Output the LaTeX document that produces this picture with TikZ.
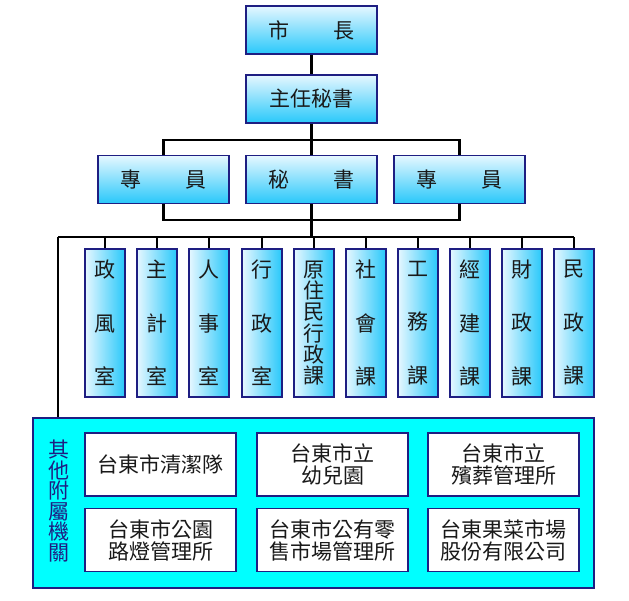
\documentclass[tikz,border=0pt]{standalone}
\usepackage{fontspec}
\setmainfont{Noto Sans CJK TC}
\usepackage{tikz}

\definecolor{navy}{RGB}{30,30,130}
\definecolor{skyblue}{RGB}{40,200,250}
\definecolor{pale}{RGB}{230,247,255}
\definecolor{aqua}{RGB}{0,255,255}
\definecolor{ink}{RGB}{25,25,25}

\begin{document}
\begin{tikzpicture}[x=1pt,y=-1pt,
    headbox/.style={draw=navy, line width=1.6pt, top color=pale, bottom color=skyblue,
        minimum width=131pt, minimum height=48pt, inner sep=0pt, text=ink,
        font=\fontsize{21}{22}\selectfont},
    unitbox/.style={draw=navy, line width=1.6pt, left color=pale, right color=skyblue,
        minimum width=40pt, minimum height=148pt, inner sep=0pt, align=center, text=ink,
        font=\fontsize{21}{53.5}\selectfont},
    subbox/.style={draw=navy, line width=1.6pt, fill=white, minimum width=151pt,
        minimum height=63pt, inner sep=0pt, align=center, text=ink,
        font=\fontsize{21}{22}\selectfont},
    link/.style={line width=2.2pt}]
            \useasboundingbox (0,0) rectangle (629,600);
            % top
            \node[headbox] (mayor) at (311.5,30) {市\hspace{2.1em}長};
            \node[headbox] (chief) at (311.5,99) {主任秘書};
            \node[headbox] (spec1) at (163.5,179.5) {專\hspace{2.1em}員};
            \node[headbox] (sec)   at (311.5,179.5) {秘\hspace{2.1em}書};
            \node[headbox] (spec2) at (459.5,179.5) {專\hspace{2.1em}員};
            % units
            \foreach \i/\x/\txt in {1/105/{政\\風\\室}, 2/157/{主\\計\\室}, 3/209/{人\\事\\室},
                4/262/{行\\政\\室}, 6/366/{社\\會\\課}, 7/418/{工\\務\\課},
                8/470/{經\\建\\課}, 9/522/{財\\政\\課}, 10/574/{民\\政\\課}}
                \node[unitbox] (u\i) at (\x,323) {\txt};
            \node[unitbox, font=\fontsize{21}{21.2}\selectfont] (u5) at (314,323)
                {原\\住\\民\\行\\政\\課};
            % other agencies
            \node[draw=navy, line width=1.6pt, fill=aqua, minimum width=561pt,
                minimum height=170pt, inner sep=0pt] (others) at (313.5,503) {};
            \node[align=center, text=navy, font=\fontsize{21}{20.6}\selectfont] (label) at (59,501)
                {其\\他\\附\\屬\\機\\關};
            \node[subbox] (a1) at (160.5,464.5) {台東市清潔隊};
            \node[subbox] (a2) at (332.5,464.5) {台東市立\\幼兒園};
            \node[subbox] (a3) at (503.5,464.5) {台東市立\\殯葬管理所};
            \node[subbox] (a4) at (160.5,540) {台東市公園\\路燈管理所};
            \node[subbox] (a5) at (332.5,540) {台東市公有零\\售市場管理所};
            \node[subbox] (a6) at (503.5,540) {台東果菜市場\\股份有限公司};
            % links
            \coordinate (bus) at (58,237);
            \draw[link] (mayor) -- (chief);
            \draw[link] (chief) -- (sec);
            \draw[link] (spec1.north) -- ++(0,-15) -| (spec2.north);
            \draw[link] (spec1.south) -- ++(0,16) -| (spec2.south);
            \draw[link] (sec.south) -- (sec.south |- bus);
            \draw[link] (bus) -- (u10.north |- bus);
            \draw[link] (bus) -- (bus |- others.north);
            \foreach \i in {1,...,10}
                \draw[link] (u\i.north) -- (u\i.north |- bus);
        \end{tikzpicture}
\end{document}
